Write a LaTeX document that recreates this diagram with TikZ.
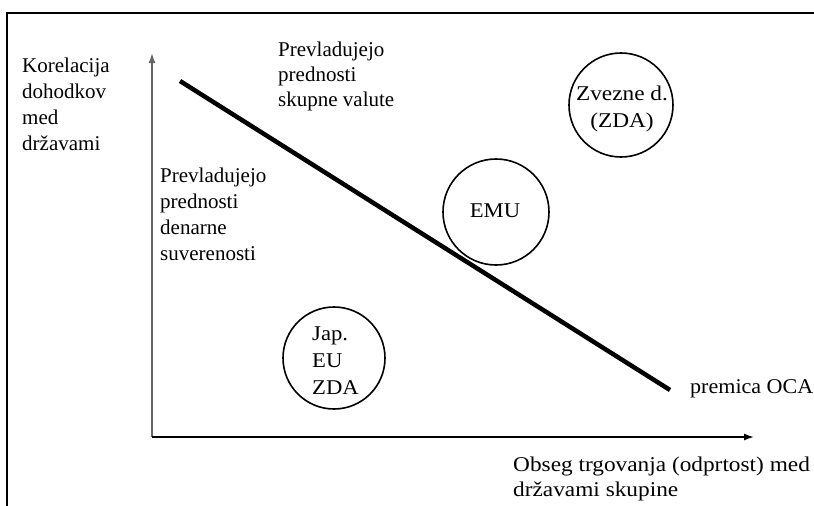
\documentclass[tikz,border=0pt]{standalone}
\usepackage{fontspec}
\setmainfont{Liberation Serif}
\newfontfamily\wideA[FakeStretch=1.05]{Liberation Serif}
\newfontfamily\wideB[FakeStretch=1.08]{Liberation Serif}
\newfontfamily\wideC[FakeStretch=1.11]{Liberation Serif}
\usetikzlibrary{arrows.meta}
\begin{document}
\begin{tikzpicture}[x=1pt,y=-1pt,
  lbl/.style={inner sep=0pt,anchor=north west,align=left,font=\fontsize{21}{26}\selectfont},
  ctr/.style={inner sep=0pt,align=center,font=\fontsize{21}{27}\selectfont},
  bubble/.style={draw,line width=1.6pt,circle,inner sep=0pt},
  axis/.style={line width=1.6pt,-{Latex[length=10pt,width=7pt]}}]
\useasboundingbox (0,0) rectangle (814,506);
% frame
\coordinate (fa) at (7,506);
\coordinate (fb) at (7,13);
\coordinate (fc) at (814,13);
\draw[line width=2.4pt] (fa) -- (fb) -- (fc);
% axes
\coordinate (o) at (152,437);
\coordinate (ytop) at (152,53);
\coordinate (xend) at (754,437);
\draw[axis,black!60] (o) -- (ytop);
\draw[axis] (o) -- (xend);
% OCA line
\coordinate (l1) at (180,81);
\coordinate (l2) at (670,390);
\draw[line width=4.5pt] (l1) -- (l2);
% circles
\node[bubble,minimum size=104pt] (zda) at (621,105) {};
\node[bubble,minimum size=106pt] (emuc) at (496,212) {};
\node[bubble,minimum size=102pt] (japc) at (334,358) {};
% texts
\node[ctr,anchor=north,font=\wideC\fontsize{21}{27}\selectfont] (zdat) at (622,86) {Zvezne d.\\(ZDA)};
\node[ctr,font=\wideB\fontsize{21}{27}\selectfont] (emu) at (495,211) {EMU};
\node[lbl,font=\wideB\fontsize{21}{27}\selectfont] (jap) at (312,327) {Jap.\\EU\\ZDA};
\node[lbl] (ylab) at (22,58) {Korelacija\\dohodkov\\med\\državami};
\node[lbl,font=\fontsize{21}{25}\selectfont] (top) at (278,42) {Prevladujejo\\prednosti\\skupne valute};
\node[lbl] (left) at (160,168) {Prevladujejo\\prednosti\\denarne\\suverenosti};
\node[lbl,font=\wideA\fontsize{21}{26}\selectfont] (oca) at (690,379) {premica OCA};
\node[lbl,font=\wideC\fontsize{21}{25}\selectfont] (xlab) at (513,457) {Obseg trgovanja (odprtost) med\\državami skupine};
\end{tikzpicture}
\end{document}
